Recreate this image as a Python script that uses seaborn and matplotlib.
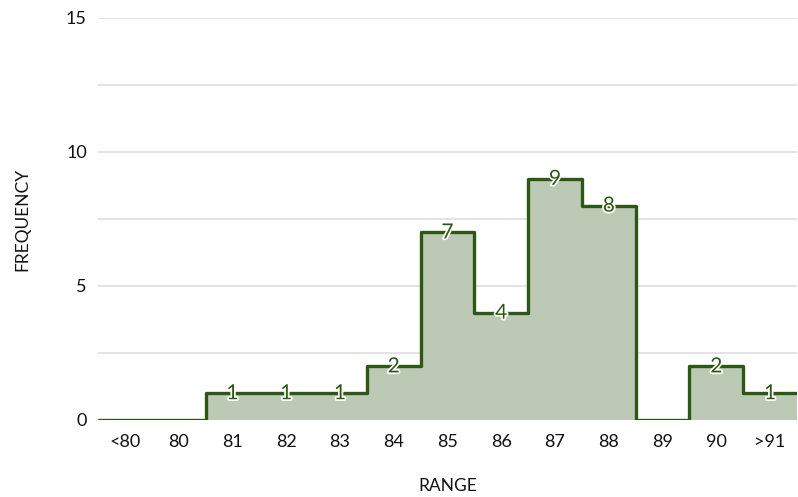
import numpy as np
import matplotlib
matplotlib.use("Agg")
import matplotlib.pyplot as plt
import matplotlib.patheffects as pe
import seaborn as sns
import pandas as pd

categories = ["<80", "80", "81", "82", "83", "84", "85", "86", "87", "88", "89", "90", ">91"]
frequency = [0, 0, 1, 1, 1, 2, 7, 4, 9, 8, 0, 2, 1]

sns.set_theme(style="white")
plt.rcParams['font.family'] = ['Lato', 'DejaVu Sans']

line_col = "#2e5716"
fill_col = "#bccab5"

fig = plt.figure(figsize=(7.98, 4.97), dpi=100)
ax = fig.add_axes([98/798, 1-420/497, (797-98)/798, (420-18)/497])

n = len(categories)
edges = np.arange(n + 1) - 0.5
vals_ext = frequency + [frequency[-1]]
df = pd.DataFrame({"x": edges, "y": vals_ext})

ax.fill_between(df["x"], df["y"], step="post", color=fill_col, linewidth=0, zorder=2)
sns.lineplot(data=df, x="x", y="y", drawstyle="steps-post", color=line_col,
             linewidth=2.4, ax=ax, zorder=3, solid_joinstyle="round", solid_capstyle="butt")

for i, v in enumerate(frequency):
    if v > 0:
        ax.text(i, v, str(v), ha="center", va="center", fontsize=15, color=line_col, zorder=5,
                path_effects=[pe.withStroke(linewidth=2.5, foreground="white")])

ax.set_xlim(-0.5, n - 0.5)
ax.set_ylim(0, 15)
ax.set_xticks(range(n))
ax.set_xticklabels(categories)
ax.set_yticks([0, 5, 10, 15])
ax.set_yticks(np.arange(0, 15.1, 2.5), minor=True)
ax.grid(True, axis="y", which="both", color="#dedede", linewidth=1.2, zorder=0)
ax.set_axisbelow(True)
for s in ["top", "right", "left", "bottom"]:
    ax.spines[s].set_visible(False)
ax.axhline(0, color="#7f7f7f", linewidth=1.2, zorder=1)
ax.tick_params(axis="both", which="both", length=0, labelsize=13, colors="#111111")
ax.tick_params(axis="y", pad=8)
ax.tick_params(axis="x", pad=10)
ax.set_xlabel("RANGE", fontsize=12.5, color="#111111", labelpad=20)
ax.set_ylabel("FREQUENCY", fontsize=12.5, color="#111111", labelpad=26)

fig.savefig("out.png", dpi=100)
